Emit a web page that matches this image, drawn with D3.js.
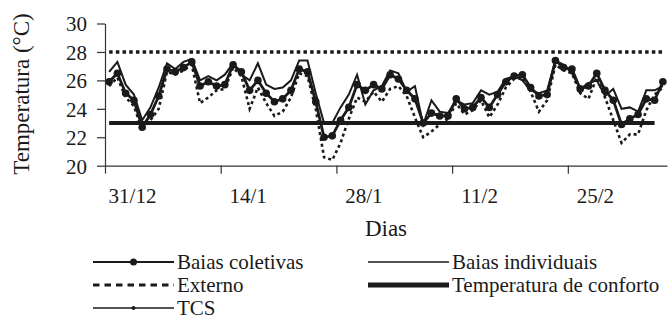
<!DOCTYPE html>
<html>
<head>
<meta charset="utf-8">
<script src="https://cdn.jsdelivr.net/npm/d3@7/dist/d3.min.js"></script>
<style>
  body { margin: 0; background: #fff; }
</style>
</head>
<body>
<div id="chart"></div>
<script>
// daily temperatures (°C), 68 days
const coletivas = [25.9, 26.5, 25.1, 24.6, 22.7, 23.6, 24.9, 26.8, 26.6, 26.9, 27.3, 25.6, 25.9, 25.6, 25.7, 27.1,
  26.6, 25.3, 26.0, 25.1, 24.5, 24.7, 25.3, 26.8, 26.6, 24.5, 22.0, 22.1, 23.2, 24.1, 25.7, 25.3,
  25.7, 25.4, 26.4, 26.1, 25.3, 24.7, 23.0, 23.7, 23.5, 23.5, 24.7, 24.0, 24.1, 24.8, 24.1, 25.0,
  25.9, 26.3, 26.4, 25.5, 24.9, 25.0, 27.4, 26.9, 26.8, 25.4, 25.6, 26.5, 25.3, 24.6, 22.9, 23.3,
  23.6, 24.7, 24.6, 25.9];
const individuais = [26.6, 27.3, 25.7, 25.0, 23.2, 24.1, 25.5, 27.2, 26.8, 27.3, 27.5, 26.0, 26.3, 26.0, 26.4, 27.2,
  26.4, 26.0, 27.2, 25.7, 25.4, 25.5, 26.0, 27.4, 27.4, 25.1, 23.0, 23.0, 24.1, 25.0, 26.4, 24.3,
  25.3, 25.6, 26.7, 26.5, 25.2, 25.6, 22.9, 24.6, 23.8, 23.7, 24.6, 24.3, 24.4, 25.3, 25.0, 25.2,
  26.1, 26.3, 26.0, 25.3, 25.1, 25.3, 27.4, 27.1, 26.5, 25.4, 25.8, 26.0, 24.9, 25.4, 24.0, 24.1,
  23.8, 25.3, 25.3, 25.6];
const externo = [25.6, 26.2, 24.8, 24.2, 22.5, 23.2, 24.0, 26.6, 26.4, 26.7, 27.1, 24.4, 24.8, 25.3, 25.4, 26.9,
  26.3, 24.0, 25.5, 24.4, 23.5, 23.8, 24.8, 26.5, 26.3, 24.0, 20.6, 20.4, 21.6, 23.3, 24.8, 24.5,
  25.2, 24.5, 25.4, 25.6, 24.9, 23.4, 22.0, 22.4, 22.9, 23.3, 24.4, 23.6, 23.9, 24.6, 23.4, 24.3,
  25.5, 26.1, 26.2, 25.2, 23.8, 24.6, 27.1, 26.7, 26.5, 25.1, 24.7, 26.2, 24.8, 23.2, 21.6, 22.2,
  22.2, 23.9, 25.0, 25.5];
const tcsValue = 28;
const confortoValue = 23;
const confortoDays = 67;

const tickDays = [0, 14, 28, 42, 56];
const tickLabels = ["31/12", "14/1", "28/1", "11/2", "25/2"];
const yTicks = [20, 22, 24, 26, 28, 30];

const legendItems = [
  { label: "Baias coletivas", kind: "coletivas" },
  { label: "Baias individuais", kind: "individuais" },
  { label: "Externo", kind: "externo" },
  { label: "Temperatura de conforto", kind: "conforto" },
  { label: "TCS", kind: "tcs" }
];

const width = 669, height = 321;
const plotLeft = 105, plotRight = 667, plotTop = 23.5, plotBottom = 165.7;
const ink = "#1a1a1a";
const serif = "'Liberation Serif', 'Times New Roman', serif";

const svg = d3.select("#chart").append("svg")
  .attr("width", width)
  .attr("height", height);

const nDays = coletivas.length;
const x = d3.scaleLinear().domain([0, nDays]).range([plotLeft, plotRight]);
const y = d3.scaleLinear().domain([20, 30]).range([plotBottom, plotTop]);

// axes
const xAxis = d3.axisBottom(x)
  .tickValues(tickDays)
  .tickFormat((d, i) => tickLabels[i])
  .tickSize(8)
  .tickSizeOuter(0);
const gx = svg.append("g")
  .attr("transform", "translate(0," + plotBottom + ")")
  .call(xAxis);
gx.selectAll("text")
  .attr("dx", 27)
  .attr("y", 22);

const yAxis = d3.axisLeft(y)
  .tickValues(yTicks)
  .tickSize(8)
  .tickPadding(10)
  .tickSizeOuter(0);
const gy = svg.append("g")
  .attr("transform", "translate(" + plotLeft + ",0)")
  .call(yAxis);
gy.selectAll("text")
  .attr("dy", "0.35em");

svg.selectAll(".tick text")
  .style("font-family", serif)
  .style("font-size", "21px")
  .style("fill", ink);
svg.selectAll(".domain, .tick line").attr("stroke", "#333").attr("stroke-width", 1.2);

// axis titles
svg.append("text")
  .attr("transform", "translate(29,94) rotate(-90)")
  .attr("text-anchor", "middle")
  .style("font-family", serif)
  .style("font-size", "23px")
  .style("fill", ink)
  .text("Temperatura (°C)");

svg.append("text")
  .attr("x", 386)
  .attr("y", 236)
  .attr("text-anchor", "middle")
  .style("font-family", serif)
  .style("font-size", "23px")
  .style("fill", ink)
  .text("Dias");

// series
const line = d3.line()
  .x((d, i) => x(i + 0.5))
  .y(d => y(d));

// comfort temperature
svg.append("line")
  .attr("x1", x(0.5)).attr("x2", x(confortoDays - 0.5))
  .attr("y1", y(confortoValue)).attr("y2", y(confortoValue))
  .attr("stroke", ink).attr("stroke-width", 4);

// TCS
svg.append("line")
  .attr("x1", x(0.5)).attr("x2", x(nDays - 0.5))
  .attr("y1", y(tcsValue)).attr("y2", y(tcsValue))
  .attr("stroke", ink).attr("stroke-width", 3.5)
  .attr("stroke-dasharray", "3.5,3.2");

svg.append("path")
  .datum(externo)
  .attr("d", line)
  .attr("fill", "none")
  .attr("stroke", ink)
  .attr("stroke-width", 2.6)
  .attr("stroke-dasharray", "3,3");

svg.append("path")
  .datum(individuais)
  .attr("d", line)
  .attr("fill", "none")
  .attr("stroke", ink)
  .attr("stroke-width", 2);

svg.append("path")
  .datum(coletivas)
  .attr("d", line)
  .attr("fill", "none")
  .attr("stroke", ink)
  .attr("stroke-width", 2.8);

svg.selectAll("circle.col")
  .data(coletivas)
  .enter()
  .append("circle")
  .attr("class", "col")
  .attr("cx", (d, i) => x(i + 0.5))
  .attr("cy", d => y(d))
  .attr("r", 3.8)
  .attr("fill", ink);

// legend
const legendPos = [
  { x: 93, y: 262 }, { x: 368, y: 262 },
  { x: 93, y: 285 }, { x: 368, y: 285 },
  { x: 93, y: 308 }
];
const lineLen = 81;

legendItems.forEach((item, i) => {
  const p = legendPos[i];
  const g = svg.append("g").attr("transform", "translate(" + p.x + "," + p.y + ")");
  const l = g.append("line")
    .attr("x1", 0).attr("x2", lineLen)
    .attr("y1", 0).attr("y2", 0)
    .attr("stroke", ink);
  if (item.kind === "coletivas") {
    l.attr("stroke-width", 2);
    g.append("circle").attr("cx", lineLen / 2).attr("cy", 0).attr("r", 3.5).attr("fill", ink);
  } else if (item.kind === "individuais") {
    l.attr("stroke-width", 1.6);
  } else if (item.kind === "externo") {
    l.attr("stroke-width", 3).attr("stroke-dasharray", "6.5,5");
  } else if (item.kind === "conforto") {
    l.attr("stroke-width", 5);
  } else {
    l.attr("stroke-width", 1.6);
    g.append("circle").attr("cx", lineLen / 2).attr("cy", 0).attr("r", 2).attr("fill", ink);
  }
  g.append("text")
    .attr("x", lineLen + 3)
    .attr("y", 0)
    .attr("dy", "0.33em")
    .style("font-family", serif)
    .style("font-size", "21px")
    .style("fill", ink)
    .text(item.label);
});
</script>
</body>
</html>
